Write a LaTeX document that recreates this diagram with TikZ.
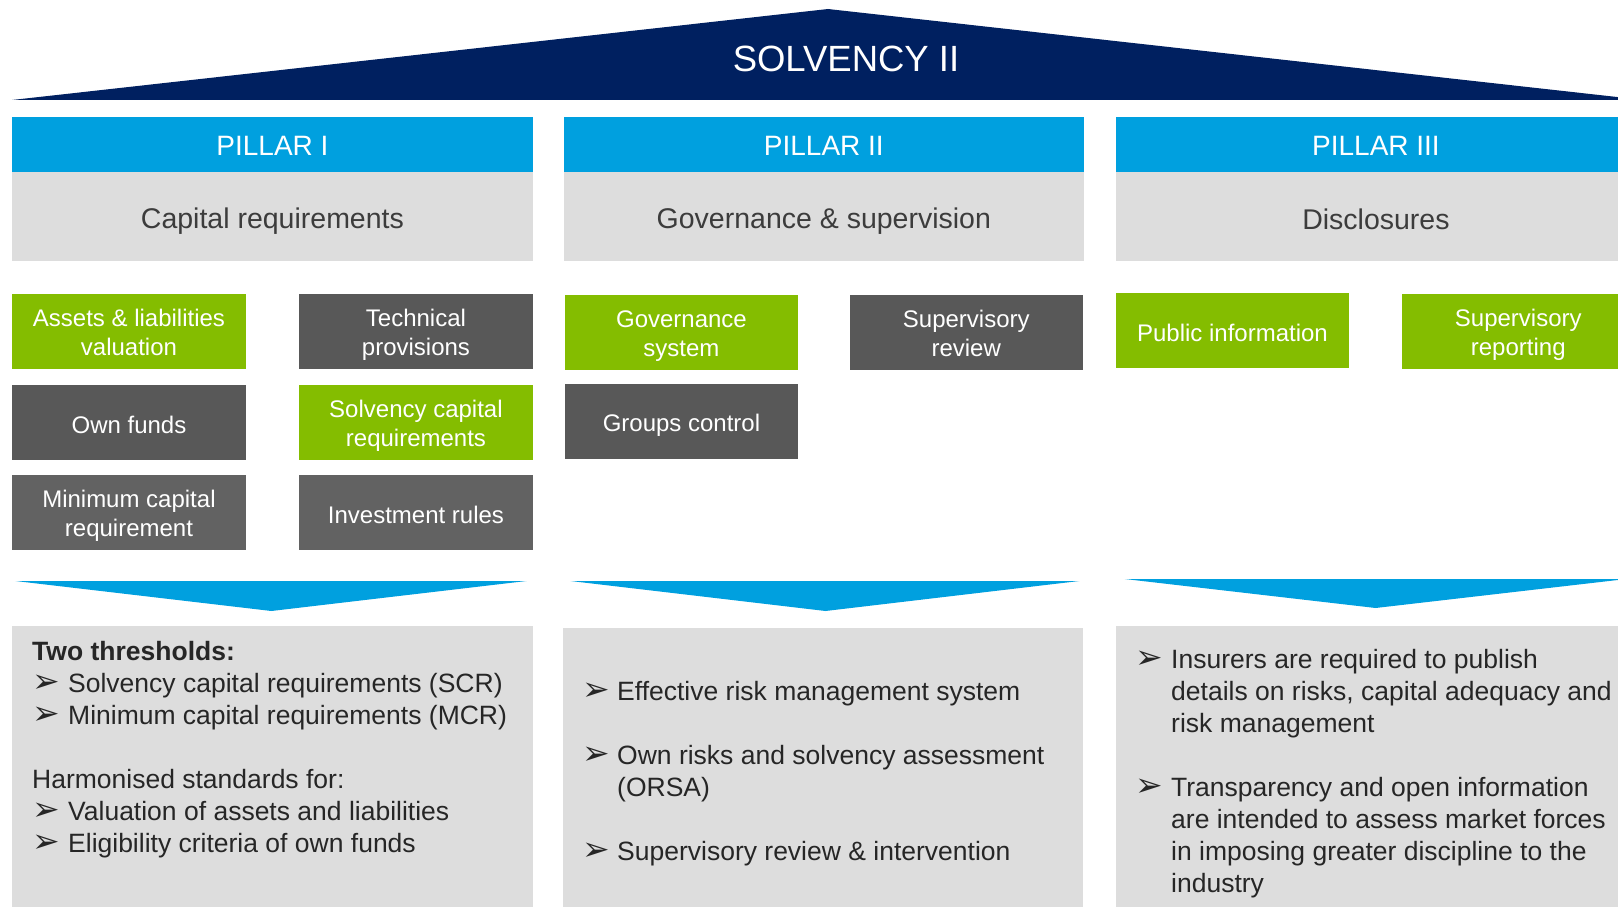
\documentclass[tikz,border=0pt]{standalone}
\usepackage{fontspec}
\setmainfont{Liberation Sans}
\newfontfamily\dejavu{DejaVu Sans}
\definecolor{navy}{HTML}{002060}
\definecolor{pblue}{HTML}{00A0DF}
\definecolor{lgray}{HTML}{DDDDDD}
\definecolor{pgreen}{HTML}{84BD00}
\definecolor{dgray}{HTML}{585858}
\definecolor{mgray}{HTML}{626262}
\definecolor{ink}{HTML}{262626}
\newcommand{\ppstrut}{\rule[-0.1em]{0pt}{1.13em}}
\newcommand{\hdstrut}{\rule[-0.18em]{0pt}{1.117em}}
\tikzset{
  pillarhead/.style={anchor=north west, fill=pblue, text=white, minimum width=520.5pt, minimum height=55pt, inner sep=0pt, font=\fontsize{28}{30}\selectfont, execute at begin node=\hdstrut},
  pillarsub/.style={anchor=north west, fill=lgray, text=ink!90, minimum width=520.5pt, minimum height=89pt, inner sep=0pt, font=\fontsize{28.5}{30}\selectfont, execute at begin node=\ppstrut},
  itembox/.style={anchor=north west, text=white, minimum width=233.5pt, minimum height=74.5pt, inner sep=0pt, align=center, font=\fontsize{24}{29}\selectfont, execute at begin node=\ppstrut, execute at end node=\ppstrut},
  twoline/.style={text height=50.2pt, text depth=2pt},
  greenbox/.style={itembox, fill=pgreen},
  darkbox/.style={itembox, fill=dgray},
  midbox/.style={itembox, fill=mgray},
  lowbox/.style={anchor=north west, fill=lgray, minimum width=520.5pt, minimum height=290pt, inner sep=0pt},
  chev/.style={fill=pblue},
  txt/.style={anchor=base west, inner sep=0pt, text=ink, font=\fontsize{26.5}{32}\selectfont},
  bul/.style={anchor=base west, inner sep=0pt, text=ink, font=\dejavu\fontsize{33}{33}\selectfont},
}
\begin{document}
\begin{tikzpicture}[x=1pt,y=-1pt]
\clip (0,0) rectangle (1618,907);
\fill[white] (0,0) rectangle (1618,907);
% roof
\fill[navy] (12,100) -- (828,9) -- (1644,100) -- cycle;
\node[text=white, font=\fontsize{36.5}{38}\selectfont, inner sep=0pt] (title) at (846,59) {SOLVENCY II};
% pillar headers
\node[pillarhead] (p1) at (12,117) {PILLAR I};
\node[pillarhead] (p2) at (563.4,117) {PILLAR II};
\node[pillarhead] (p3) at (1115.5,117) {PILLAR III};
\node[pillarsub] (s1) at (12,172) {Capital requirements};
\node[pillarsub] (s2) at (563.4,172) {Governance \& supervision};
\node[pillarsub] (s3) at (1115.5,172) {Disclosures};
% pillar I boxes
\node[greenbox, twoline] (alv) at (12,294) {Assets \& liabilities\\valuation};
\node[darkbox, twoline] (tp) at (299,294) {Technical\\provisions};
\node[darkbox] (of) at (12,385) {Own funds};
\node[greenbox, twoline] (scr) at (299,385) {Solvency capital\\requirements};
\node[midbox, twoline] (mcr) at (12,475) {Minimum capital\\requirement};
\node[midbox] (ir) at (299,475) {Investment rules};
% pillar II boxes
\node[greenbox, twoline] (gs) at (564.5,295) {Governance\\system};
\node[darkbox, twoline] (sr) at (849.3,295) {Supervisory\\review};
\node[darkbox] (gc) at (564.5,384) {Groups control};
% pillar III boxes
\node[greenbox] (pi) at (1115.5,293) {Public information};
\node[greenbox, twoline] (srep) at (1401.3,294) {Supervisory\\reporting};
% chevrons
\fill[chev] (15.5,581) -- (526.5,581) -- (271.4,611) -- cycle;
\fill[chev] (570.6,581) -- (1079.4,581) -- (825.5,611) -- cycle;
\fill[chev] (1124.8,579) -- (1626.4,579) -- (1375.6,608) -- cycle;
% lower boxes
\node[lowbox] (l1) at (12,625.3) {};
\node[lowbox] (l2) at (562.4,627.4) {};
\node[lowbox] (l3) at (1115.5,625.3) {};
% pillar I text
\node[txt] (a0) at (32,660) {\bfseries Two thresholds:};
\node[bul] (ab1) at (32,692) {➢};
\node[txt] (a1) at (68,692) {Solvency capital requirements (SCR)};
\node[bul] (ab2) at (32,724) {➢};
\node[txt] (a2) at (68,724) {Minimum capital requirements (MCR)};
\node[txt] (a3) at (32,788) {Harmonised standards for:};
\node[bul] (ab4) at (32,820) {➢};
\node[txt] (a4) at (68,820) {Valuation of assets and liabilities};
\node[bul] (ab5) at (32,852) {➢};
\node[txt] (a5) at (68,852) {Eligibility criteria of own funds};
% pillar II text
\node[bul] (bb1) at (582,700) {➢};
\node[txt] (b1) at (617,700) {Effective risk management system};
\node[bul] (bb2) at (582,764) {➢};
\node[txt] (b2) at (617,764) {Own risks and solvency assessment};
\node[txt] (b3) at (617,796) {(ORSA)};
\node[bul] (bb4) at (582,860) {➢};
\node[txt] (b4) at (617,860) {Supervisory review \& intervention};
% pillar III text
\node[bul] (cb1) at (1135,668) {➢};
\node[txt] (c1) at (1171,668) {Insurers are required to publish};
\node[txt] (c2) at (1171,700) {details on risks, capital adequacy and};
\node[txt] (c3) at (1171,732) {risk management};
\node[bul] (cb4) at (1135,796) {➢};
\node[txt] (c4) at (1171,796) {Transparency and open information};
\node[txt] (c5) at (1171,828) {are intended to assess market forces};
\node[txt] (c6) at (1171,860) {in imposing greater discipline to the};
\node[txt] (c7) at (1171,892) {industry};
\end{tikzpicture}
\end{document}
